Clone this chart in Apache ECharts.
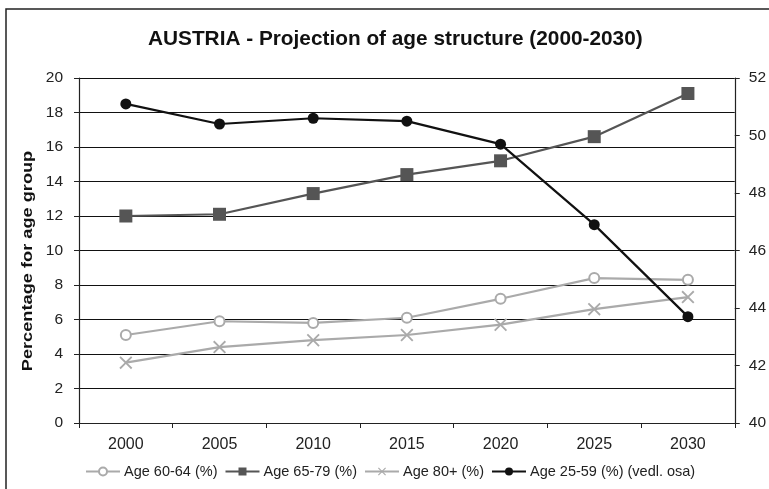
<!DOCTYPE html>
<html>
<head>
<meta charset="utf-8">
<script src="https://cdn.jsdelivr.net/npm/echarts@6/dist/echarts.min.js"></script>
<style>
  html, body { margin: 0; padding: 0; background: #fff; }
  #chart { width: 769px; height: 489px; }
</style>
</head>
<body>
<div id="chart"></div>
<script>
// Projection years (category axis)
const years = ['2000', '2005', '2010', '2015', '2020', '2025', '2030'];

// Shares of each age group, % (left axis)
const age6064 = [5.1, 5.9, 5.8, 6.1, 7.2, 8.4, 8.3];
const age6579 = [12.0, 12.1, 13.3, 14.4, 15.2, 16.6, 19.1];
const age80plus = [3.5, 4.4, 4.8, 5.1, 5.7, 6.6, 7.3];

// Share of the 25-59 group, % (secondary axis)
const age2559 = [51.1, 50.4, 50.6, 50.5, 49.7, 46.9, 43.7];

const seriesNames = ['Age 60-64 (%)', 'Age 65-79 (%)', 'Age 80+ (%)', 'Age 25-59 (%) (vedl. osa)'];
const yAxisTitle = 'Percentage for age group';

const FONT = 'Liberation Sans, Arial, sans-serif';
const crossPath = 'path://M0,1 L1,0 L5,4 L9,0 L10,1 L6,5 L10,9 L9,10 L5,6 L1,10 L0,9 L4,5 Z';

const chart = echarts.init(document.getElementById('chart'), null, { renderer: 'canvas' });

chart.setOption({
  animation: false,
  backgroundColor: '#ffffff',
  textStyle: { fontFamily: FONT },
  title: {
    text: 'AUSTRIA - Projection of age structure (2000-2030)',
    left: 143,
    top: 24,
    textStyle: { fontFamily: FONT, fontSize: 20.8, fontWeight: 'bold', color: '#111' }
  },
  graphic: [{
    type: 'rect',
    shape: { x: 6, y: 9, width: 800, height: 520 },
    style: { fill: 'none', stroke: '#222', lineWidth: 1.5 },
    silent: true
  }, {
    // vertical title of the left axis, stretched along its length
    type: 'text',
    x: 28,
    y: 261,
    rotation: Math.PI / 2,
    scaleX: 1.3,
    style: {
      text: yAxisTitle,
      fontFamily: FONT,
      fontSize: 14,
      fontWeight: 'bold',
      fill: '#111',
      align: 'center',
      verticalAlign: 'middle'
    },
    silent: true
  }],
  legend: {
    bottom: 5,
    left: 80,
    itemWidth: 34,
    itemHeight: 10,
    itemGap: 7,
    textStyle: { fontFamily: FONT, fontSize: 14.5, color: '#222', padding: [0, 0, 0, -1] },
    data: seriesNames
  },
  grid: { left: 79, right: 33, top: 78, bottom: 66, containLabel: false },
  xAxis: {
    type: 'category',
    data: years,
    boundaryGap: true,
    axisLine: { lineStyle: { color: '#222', width: 1.2 } },
    axisTick: { show: true, length: 5, lineStyle: { color: '#222' } },
    axisLabel: { fontFamily: FONT, fontSize: 16, color: '#222', margin: 14 }
  },
  yAxis: [{
    type: 'value',
    min: 0,
    max: 20,
    interval: 2,
    axisLine: { show: true, lineStyle: { color: '#222', width: 1.2 } },
    axisTick: { show: true, length: 5, lineStyle: { color: '#222' } },
    axisLabel: { fontFamily: FONT, fontSize: 15.5, color: '#222', margin: 16 },
    splitLine: { show: true, lineStyle: { color: '#111', width: 1.2 } }
  }, {
    type: 'value',
    min: 40,
    max: 52,
    interval: 2,
    position: 'right',
    axisLine: { show: true, lineStyle: { color: '#222', width: 1.2 } },
    axisTick: { show: true, length: 5, lineStyle: { color: '#222' } },
    axisLabel: { fontFamily: FONT, fontSize: 15.5, color: '#222', margin: 14 },
    splitLine: { show: false }
  }],
  series: [{
    name: seriesNames[0],
    type: 'line',
    data: age6064,
    yAxisIndex: 0,
    symbol: 'emptyCircle',
    symbolSize: 10,
    lineStyle: { color: '#aaaaaa', width: 2.2 },
    itemStyle: { color: '#aaaaaa', borderColor: '#aaaaaa', borderWidth: 1 },
    z: 3
  }, {
    name: seriesNames[1],
    type: 'line',
    data: age6579,
    yAxisIndex: 0,
    symbol: 'rect',
    symbolSize: 13,
    lineStyle: { color: '#555555', width: 2.2 },
    itemStyle: { color: '#555555' },
    z: 4
  }, {
    name: seriesNames[2],
    type: 'line',
    data: age80plus,
    yAxisIndex: 0,
    symbol: crossPath,
    symbolSize: 13,
    lineStyle: { color: '#aaaaaa', width: 2.2 },
    itemStyle: { color: '#aaaaaa' },
    z: 3
  }, {
    name: seriesNames[3],
    type: 'line',
    data: age2559,
    yAxisIndex: 1,
    symbol: 'circle',
    symbolSize: 11,
    lineStyle: { color: '#111111', width: 2.2 },
    itemStyle: { color: '#111111' },
    z: 5
  }]
});
</script>
</body>
</html>
